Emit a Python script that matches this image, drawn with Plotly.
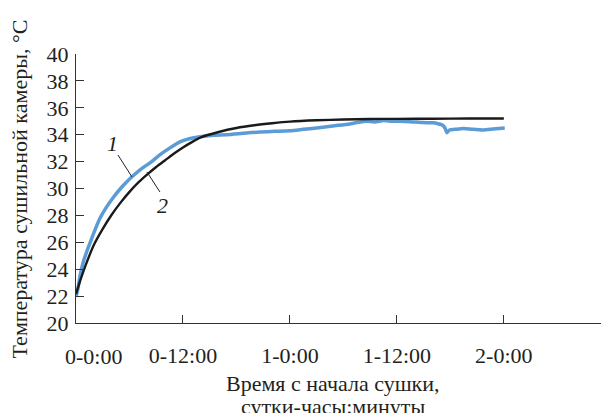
import plotly.graph_objects as go

# Measured chamber temperature (curve 1): hours since start, deg C
measured_hours = [0, 0.2, 0.45, 0.8, 1.2, 1.6, 2.0, 2.7, 3.4, 4.2, 5.0, 5.7, 6.5, 7.4,
                  8.3, 9.4, 10.5, 11.6, 12.7, 13.9, 15.4, 16.9, 18.7, 20.6, 22.3, 24.0,
                  25.5, 27.0, 28.8, 30.7, 31.5, 32.6, 33.5, 34.5, 35.5, 36.3, 37.5, 38.9,
                  40.0, 40.6, 41.1, 41.4, 41.6, 41.9, 42.5, 43.5, 44.5, 45.7, 46.8, 48.1]
measured_temp = [21.95, 22.5, 23.5, 24.5, 25.3, 26.0, 26.7, 27.8, 28.6, 29.35, 30.0, 30.5,
                 31.0, 31.5, 31.9, 32.5, 33.0, 33.45, 33.7, 33.85, 33.95, 34.0, 34.1, 34.2,
                 34.25, 34.3, 34.4, 34.5, 34.65, 34.8, 34.9, 35.0, 34.95, 35.05, 35.0, 35.0,
                 34.97, 34.9, 34.88, 34.82, 34.72, 34.5, 34.15, 34.35, 34.4, 34.47, 34.4,
                 34.35, 34.42, 34.5]

# Calculated chamber temperature (curve 2)
model_hours = [0, 0.5, 1, 2, 3, 4, 5, 6, 7, 8, 9, 10, 11, 12, 13, 14, 16, 18, 20, 22,
               24, 27, 30, 33, 36, 40, 44, 48]
model_temp = [22.15, 23.2, 24.15, 25.8, 27.0, 28.05, 28.95, 29.75, 30.45, 31.05, 31.6, 32.1,
              32.6, 33.05, 33.45, 33.8, 34.2, 34.5, 34.7, 34.85, 34.97, 35.07, 35.13,
              35.17, 35.18, 35.19, 35.2, 35.2]

tick_hours = [0, 12, 24, 36, 48]
tick_labels = ["", "0-12:00", "1-0:00", "1-12:00", "2-0:00"]
y_ticks = list(range(20, 41, 2))

FONT = "Liberation Serif"
INK = "#231f20"
SIZE = 22

fig = go.Figure()
fig.add_trace(go.Scatter(x=measured_hours, y=measured_temp, mode="lines",
                         line=dict(color="#5b9bd6", width=3.5, shape="spline", smoothing=0.6),
                         showlegend=False, hoverinfo="skip"))
fig.add_trace(go.Scatter(x=model_hours, y=model_temp, mode="lines",
                         line=dict(color="#1a1a1a", width=2.4, shape="spline", smoothing=0.8),
                         showlegend=False, hoverinfo="skip"))

# curve numbers with leader lines
fig.add_shape(type="line", xref="x", yref="y", x0=4.71, y0=32.49, x1=6.28, y1=30.86,
              line=dict(color=INK, width=1))
fig.add_shape(type="line", xref="x", yref="y", x0=7.96, y0=31.23, x1=9.42, y1=29.74,
              line=dict(color=INK, width=1))
fig.add_annotation(x=4.15, y=33.38, xref="x", yref="y", text="<i>1</i>", showarrow=False,
                   font=dict(family=FONT, size=SIZE, color=INK))
fig.add_annotation(x=9.76, y=28.77, xref="x", yref="y", text="<i>2</i>", showarrow=False,
                   font=dict(family=FONT, size=SIZE, color=INK))

# first time label sits to the right of the vertical axis
fig.add_annotation(x=2.0, y=0, xref="x", yref="paper", yanchor="middle", yshift=-33,
                   text="0-0:00", showarrow=False, font=dict(family=FONT, size=SIZE, color=INK))

# axis titles
fig.add_annotation(x=-0.1067, y=0.5, xref="paper", yref="paper", textangle=-90,
                   xanchor="center", yanchor="middle",
                   text="Температура сушильной камеры, °С", showarrow=False,
                   font=dict(family=FONT, size=SIZE, color=INK))
fig.add_annotation(x=0.4895, y=0, xref="paper", yref="paper", yshift=-60,
                   xanchor="center", yanchor="middle",
                   text="Время с начала сушки,", showarrow=False,
                   font=dict(family=FONT, size=SIZE, color=INK))
fig.add_annotation(x=0.4895, y=0, xref="paper", yref="paper", yshift=-83,
                   xanchor="center", yanchor="middle",
                   text="сутки-часы:минуты", showarrow=False,
                   font=dict(family=FONT, size=SIZE, color=INK))

fig.update_layout(
    width=603, height=413,
    margin=dict(l=76, r=2, t=54, b=90),
    paper_bgcolor="white", plot_bgcolor="white",
    font=dict(family=FONT, size=SIZE, color=INK),
    xaxis=dict(range=[0, 58.9], tickvals=tick_hours, ticktext=tick_labels,
               showgrid=False, zeroline=False, showline=True, linecolor="#333",
               linewidth=1.3, ticks="inside", ticklen=8, tickcolor="#333",
               ticklabelstandoff=12, tickfont=dict(family=FONT, size=SIZE, color=INK)),
    yaxis=dict(range=[20, 40], tickvals=y_ticks, showgrid=False, zeroline=False,
               showline=True, linecolor="#333", linewidth=1.3, ticks="inside",
               ticklen=8, tickcolor="#333", ticklabelstandoff=2,
               tickfont=dict(family=FONT, size=SIZE, color=INK)),
)

fig.write_html("out.html")
